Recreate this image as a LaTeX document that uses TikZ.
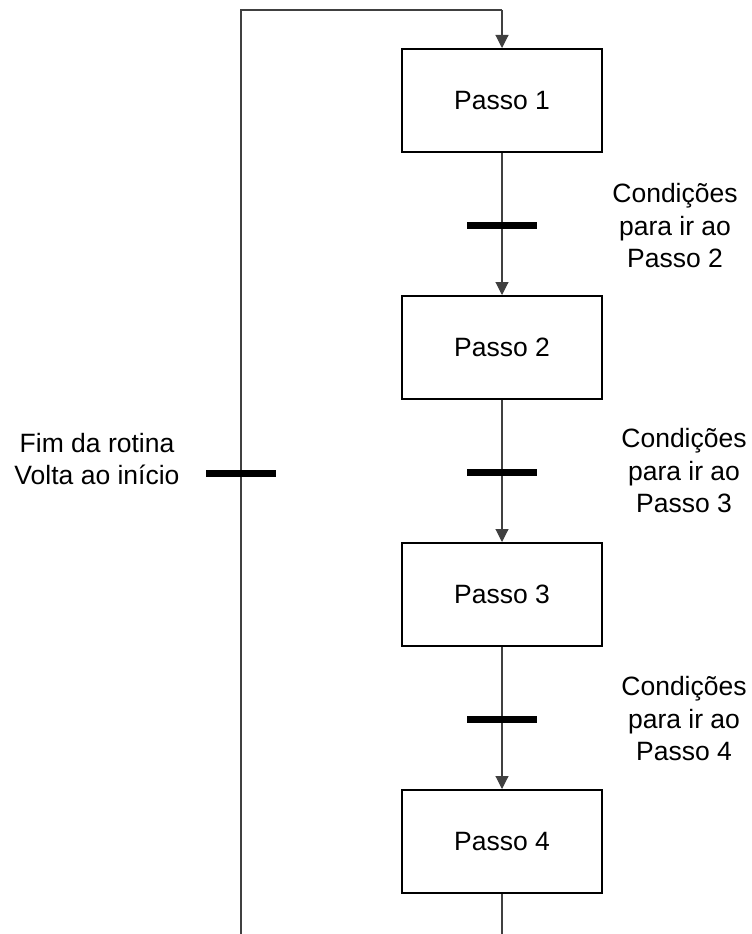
\documentclass[tikz,border=0pt]{standalone}
\usepackage{fontspec}
\setmainfont{Liberation Sans}
\usetikzlibrary{arrows.meta}
\begin{document}
\begin{tikzpicture}[x=1pt,y=-1pt,
  font=\fontsize{26.5}{32.5}\selectfont,
  stepbox/.style={draw=black,line width=2pt,minimum width=200pt,minimum height=103pt,inner sep=0pt,fill=white},
  bar/.style={fill=black,draw=none,minimum width=70pt,minimum height=7pt,inner sep=0pt},
  link/.style={draw=black!75,line width=1.1pt},
  arr/.style={link,-{Triangle[width=13pt,length=13pt]}},
  cond/.style={align=center,inner sep=0pt}]
\useasboundingbox (0,0) rectangle (752,934);

% step boxes
\node[stepbox] (p1) at (502,100.5) {Passo 1};
\node[stepbox] (p2) at (502,347.5) {Passo 2};
\node[stepbox] (p3) at (502,594.5) {Passo 3};
\node[stepbox] (p4) at (502,841.5) {Passo 4};

% return path coordinates
\coordinate (ret0) at (241,934);
\coordinate (ret1) at (241,10);
\coordinate (ret2) at (502,10);
\coordinate (tail) at (502,934);

% connectors
\draw[arr] (p1) -- (p2);
\draw[arr] (p2) -- (p3);
\draw[arr] (p3) -- (p4);
\draw[link] (p4) -- (tail);
\draw[link] (ret0) -- (ret1) -- (ret2);
\draw[arr] (ret2) -- (p1);

% transition bars
\node[bar] (t1) at (502,225) {};
\node[bar] (t2) at (502,472) {};
\node[bar] (t3) at (502,719) {};
\node[bar] (t4) at (241,473) {};

% transition conditions
\node[cond] (c1) at (675,226) {Condições\\para ir ao\\Passo 2};
\node[cond] (c2) at (684,471) {Condições\\para ir ao\\Passo 3};
\node[cond] (c3) at (684,719) {Condições\\para ir ao\\Passo 4};
\node[cond] (c4) at (97,459) {Fim da rotina\\Volta ao início};
\end{tikzpicture}
\end{document}
